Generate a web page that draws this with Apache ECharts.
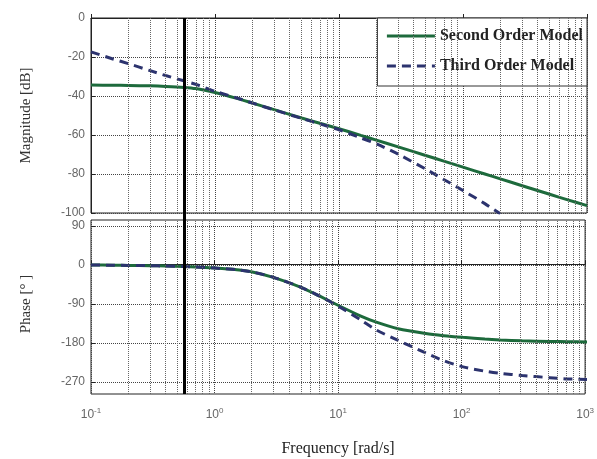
<!DOCTYPE html>
<html>
<head>
<meta charset="utf-8">
<script src="https://cdn.jsdelivr.net/npm/echarts@6/dist/echarts.min.js"></script>
<style>
  html, body { margin: 0; padding: 0; background: #fff; }
  #chart { width: 597px; height: 459px; }
</style>
</head>
<body>
<div id="chart"></div>
<script>
// frequency points [rad/s]
const freq = [0.1, 0.15, 0.2, 0.3, 0.4, 0.56, 0.7, 1, 1.5, 2, 3, 5, 7, 10, 15, 20, 30, 50, 70, 100, 150, 200, 300, 500, 700, 1000]
// magnitude [dB]
const magSecond = [-34.4, -34.5, -34.6, -34.8, -35.1, -35.6, -36.2, -38.2, -41.2, -43.6, -47.0, -51.3, -54.0, -56.8, -60.2, -62.6, -66.1, -70.5, -73.4, -76.5, -80.0, -82.5, -86.0, -90.4, -93.3, -96.2]
const magThird = [-17.4, -21.0, -23.4, -27.0, -29.5, -32.2, -34.0, -37.6, -41.0, -43.6, -47.1, -51.5, -54.3, -57.3, -61.5, -64.5, -69.8, -77.5, -82.8, -88.5, -95.2, -100.4, null, null, null, null]
// phase [deg]
const phaseSecond = [0, -0.5, -1, -1.5, -2.5, -3.5, -4.5, -7, -11, -16, -29, -52, -72, -94, -118, -132, -147, -158, -163, -167, -171, -173, -175, -176.5, -177, -177.5]
const phaseThird = [0, -0.5, -1, -1.5, -2.5, -3.5, -4.5, -7, -11, -16, -29, -52, -72, -96, -127, -150, -174, -203, -221, -235, -245, -250, -255, -260, -263, -264]
// marker frequency (thick vertical line)
const markFreq = 0.56
const seriesNames = ['Second Order Model', 'Third Order Model']

const chart = echarts.init(document.getElementById('chart'))

// minor log grid lines 2..9 in each decade
const minorFreq = []
;[0.1, 1, 10, 100].forEach((d) => {
  for (let k = 2; k <= 9; k++) minorFreq.push(+(d * k).toPrecision(3))
})

const pair = (ys) => freq.map((f, i) => [f, ys[i]])

const green = '#1d6a3c'
const navy = '#2c336e'
const dotted = { type: 'dotted', color: '#444', width: 1 }

const minorMarks = {
  silent: true,
  symbol: ['none', 'none'],
  label: { show: false },
  animation: false,
  lineStyle: { type: 'dotted', color: '#666', width: 1 },
  data: minorFreq.map((v) => ({ xAxis: v }))
}

const logX = (gridIndex, extra) =>
  Object.assign(
    {
      type: 'log',
      logBase: 10,
      min: 0.1,
      max: 1000,
      gridIndex,
      axisLine: { lineStyle: { color: '#222' } },
      axisTick: { inside: true, length: 4, lineStyle: { color: '#222' } },
      splitLine: { show: true, lineStyle: dotted }
    },
    extra
  )

const helper = (xi, yi, y, markLine) => ({
  type: 'line',
  xAxisIndex: xi,
  yAxisIndex: yi,
  data: [[1, y]],
  symbol: 'none',
  lineStyle: { opacity: 0 },
  z: 1,
  markLine
})

const curve = (name, xi, yi, ys, color, dashed) => ({
  name,
  type: 'line',
  xAxisIndex: xi,
  yAxisIndex: yi,
  data: pair(ys),
  symbol: 'none',
  smooth: 0.25,
  lineStyle: { color, width: 3, type: dashed ? [9, 6] : 'solid' },
  itemStyle: { color },
  z: dashed ? 4 : 3
})

const option = {
  animation: false,
  grid: [
    { left: 91, right: 10, top: 18, bottom: 246, show: true, borderColor: '#222', borderWidth: 1 },
    { left: 91, right: 10, top: 220, bottom: 65, show: true, borderColor: '#222', borderWidth: 1 },
    { left: 91, right: 10, top: 226, bottom: 77 },
    { left: 91, right: 10, top: 18, bottom: 65 }
  ],
  legend: {
    data: seriesNames,
    orient: 'vertical',
    right: 10,
    top: 18,
    itemWidth: 48,
    itemHeight: 14,
    itemGap: 14,
    padding: [10, 4, 12, 8],
    borderColor: '#333',
    borderWidth: 1,
    backgroundColor: '#fff',
    itemStyle: { opacity: 0 },
    lineStyle: { width: 3 },
    textStyle: {
      fontFamily: 'Liberation Serif',
      fontWeight: 'bold',
      fontSize: 16,
      color: '#222'
    }
  },
  xAxis: [
    logX(0, { axisLabel: { show: false } }),
    logX(1, {
      name: 'Frequency [rad/s]',
      nameLocation: 'middle',
      nameGap: 47,
      nameTextStyle: { fontFamily: 'Liberation Serif', fontSize: 16, color: '#222' },
      axisLabel: {
        margin: 13,
        color: '#666',
        fontFamily: 'Liberation Sans',
        fontSize: 12,
        formatter: (v) => '10{s|' + Math.round(Math.log10(v)) + '}',
        rich: { s: { fontSize: 8, color: '#666', padding: [0, 0, 8, 0] } }
      }
    }),
    logX(2, { show: false }),
    logX(3, { show: false })
  ],
  yAxis: [
    {
      type: 'value',
      gridIndex: 0,
      min: -100,
      max: 0,
      interval: 20,
      name: 'Magnitude [dB]',
      nameLocation: 'middle',
      nameGap: 57,
      nameTextStyle: { fontFamily: 'Liberation Serif', fontSize: 15, color: '#333' },
      axisLine: { show: true, lineStyle: { color: '#222' } },
      axisTick: { show: true, inside: true, length: 4, lineStyle: { color: '#222' } },
      axisLabel: { color: '#666', fontFamily: 'Liberation Sans', fontSize: 12, margin: 6 },
      splitLine: { lineStyle: dotted }
    },
    { type: 'value', gridIndex: 1, min: -297.5, max: 101.5, show: false },
    {
      type: 'value',
      gridIndex: 2,
      min: -270,
      max: 90,
      interval: 90,
      name: 'Phase [° ]',
      nameLocation: 'middle',
      nameGap: 57,
      nameTextStyle: { fontFamily: 'Liberation Serif', fontSize: 15, color: '#333' },
      axisLine: { show: false },
      axisTick: { show: true, inside: true, length: 4, lineStyle: { color: '#222' } },
      axisLabel: { color: '#666', fontFamily: 'Liberation Sans', fontSize: 12, margin: 6 },
      splitLine: { lineStyle: dotted }
    },
    { type: 'value', gridIndex: 3, min: 0, max: 1, show: false }
  ],
  series: [
    helper(0, 0, -50, minorMarks),
    helper(1, 1, 0, minorMarks),
    helper(3, 3, 0.5, {
      silent: true,
      symbol: ['none', 'none'],
      label: { show: false },
      animation: false,
      lineStyle: { type: 'solid', color: '#000', width: 3 },
      data: [{ xAxis: markFreq }]
    }),
    curve(seriesNames[0], 0, 0, magSecond, green, false),
    curve(seriesNames[1], 0, 0, magThird, navy, true),
    curve(seriesNames[0], 2, 2, phaseSecond, green, false),
    curve(seriesNames[1], 2, 2, phaseThird, navy, true)
  ]
}
chart.setOption(option)
window.addEventListener('resize', () => {
  chart.resize()
})
</script>
</body>
</html>
